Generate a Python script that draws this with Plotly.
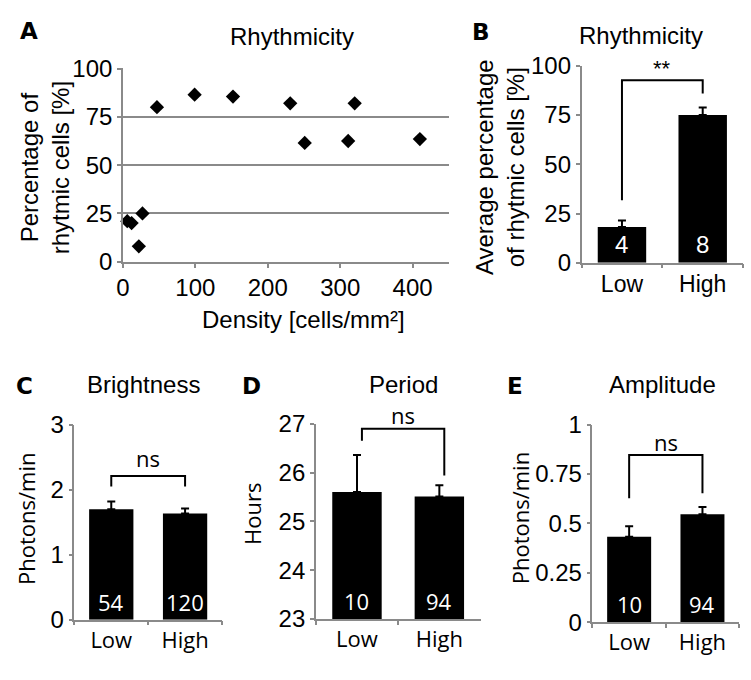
import plotly.graph_objects as go

W, H = 751, 680

# ---------------- data ----------------
# Panel A: scatter
density = [6, 12, 27, 22, 47, 99, 152, 231, 251, 320, 311, 410]
rhythmic_pct = [21, 20, 25, 8, 80, 86.5, 85.5, 82, 61.5, 82, 62.5, 63.5]

categories = ["Low", "High"]
# Panel B
rhyth_mean = [18.2, 75.0]
rhyth_err = [3.3, 3.9]
rhyth_n = ["4", "8"]
# Panel C
bright_mean = [1.70, 1.635]
bright_err = [0.12, 0.075]
bright_n = ["54", "120"]
# Panel D
period_mean = [25.6, 25.51]
period_err = [0.76, 0.23]
period_n = ["10", "94"]
# Panel E
ampl_mean = [0.433, 0.547]
ampl_err = [0.053, 0.036]
ampl_n = ["10", "94"]

# significance brackets: (left leg bottom, top, right leg bottom, label)
brk_B = (31.7, 92.7, 85.9, "**")
brk_C = (2.05, 2.21, 2.05, "ns")
brk_D = (26.65, 26.9, 25.94, "ns")
brk_E = (0.627, 0.847, 0.653, "ns")

# ---------------- helpers ----------------
def px(x):
    return x / W


def py(y):
    return 1 - y / H


GRAY = "#8a8a8a"
ARIAL = "Liberation Sans, Arial, sans-serif"
HUMAN = "Open Sans, Noto Sans, sans-serif"

fig = go.Figure()

# Panel A scatter
fig.add_trace(go.Scatter(
    x=density, y=rhythmic_pct, mode="markers",
    marker=dict(symbol="diamond", size=11, color="black"),
    xaxis="x", yaxis="y", showlegend=False, cliponaxis=False))


def add_bar(mean, err, ax):
    fig.add_trace(go.Bar(
        x=categories, y=mean, width=0.6,
        marker=dict(color="black", line=dict(width=0)),
        error_y=dict(type="data", symmetric=False, array=err,
                     arrayminus=[0] * len(err), color="black",
                     thickness=2, width=4),
        xaxis="x" + ax, yaxis="y" + ax, showlegend=False))


add_bar(rhyth_mean, rhyth_err, "2")
add_bar(bright_mean, bright_err, "3")
add_bar(period_mean, period_err, "4")
add_bar(ampl_mean, ampl_err, "5")

axis_common = dict(showline=True, linecolor=GRAY, linewidth=1.5,
                   ticks="outside", tickcolor=GRAY, ticklen=4, tickwidth=1.5,
                   zeroline=False, showgrid=False)

layout = dict(
    width=W, height=H, autosize=False,
    margin=dict(l=0, r=0, t=0, b=0),
    paper_bgcolor="white", plot_bgcolor="white",
    # Panel A
    xaxis=dict(axis_common, domain=[px(117), px(446)], range=[0, 450],
               tickvals=[0, 100, 200, 300, 400], anchor="y",
               tickfont=dict(family=ARIAL, size=24, color="black")),
    yaxis=dict(axis_common, domain=[py(258), py(56)], range=[0, 100.4],
               tickvals=[0, 25, 50, 75, 100], anchor="x", showgrid=True,
               gridcolor=GRAY, gridwidth=1.5,
               tickfont=dict(family=ARIAL, size=24, color="black")),
    # Panel B
    xaxis2=dict(axis_common, domain=[px(580), px(743)], type="category",
                range=[-0.5, 1.5], tickson="boundaries", anchor="y2",
                tickfont=dict(family=ARIAL, size=23, color="black")),
    yaxis2=dict(axis_common, domain=[py(259), py(54)], range=[0, 100],
                tickvals=[0, 25, 50, 75, 100], anchor="x2",
                tickfont=dict(family=ARIAL, size=24, color="black")),
    # Panel C
    xaxis3=dict(axis_common, domain=[px(68), px(217)], type="category",
                range=[-0.5, 1.5], tickson="boundaries", anchor="y3",
                tickfont=dict(family=HUMAN, size=22, color="black")),
    yaxis3=dict(axis_common, domain=[py(630.7), py(427.7)], range=[0, 3],
                tickvals=[0, 1, 2, 3], anchor="x3",
                tickfont=dict(family=ARIAL, size=24, color="black")),
    # Panel D
    xaxis4=dict(axis_common, domain=[px(311.7), px(478)], type="category",
                range=[-0.5, 1.5], tickson="boundaries", anchor="y4",
                tickfont=dict(family=HUMAN, size=22, color="black")),
    yaxis4=dict(axis_common, domain=[py(630), py(426.7)], range=[23, 27],
                tickvals=[23, 24, 25, 26, 27], anchor="x4",
                tickfont=dict(family=ARIAL, size=24, color="black")),
    # Panel E
    xaxis5=dict(axis_common, domain=[px(591), px(739)], type="category",
                range=[-0.5, 1.5], tickson="boundaries", anchor="y5",
                tickfont=dict(family=HUMAN, size=22, color="black")),
    yaxis5=dict(axis_common, domain=[py(633.3), py(427.7)], range=[0, 1],
                tickvals=[0, 0.25, 0.5, 0.75, 1], anchor="x5",
                tickfont=dict(family=ARIAL, size=24, color="black")),
)
fig.update_layout(**layout)

ann = []
shapes = []


def paper_text(text, x, y, size, family, angle=0, bold=False, color="black"):
    ann.append(dict(text=("<b>%s</b>" % text) if bold else text,
                    x=px(x), y=py(y), xref="paper", yref="paper",
                    showarrow=False, xanchor="center", yanchor="middle",
                    textangle=angle,
                    font=dict(family=family, size=size, color=color)))


# panel letters
for letter, lx, ly in [("A", 22, 18), ("B", 478, 19), ("C", 18, 387),
                       ("D", 247, 387), ("E", 513, 387)]:
    paper_text(letter, lx, ly, 23, "DejaVu Sans, sans-serif", bold=True)

# titles
paper_text("Rhythmicity", 288, 23, 24, ARIAL)
paper_text("Rhythmicity", 640, 22, 24, ARIAL)
paper_text("Brightness", 138, 386, 24, ARIAL)
paper_text("Period", 400, 386, 24, ARIAL)
paper_text("Amplitude", 662, 386, 24, ARIAL)

# axis titles
paper_text("Percentage of<br>rhytmic cells [%]", 38, 160, 24, ARIAL, angle=-90)
paper_text("Density [cells/mm²]", 299, 318, 24, ARIAL)
paper_text("Average percentage<br>of rhytmic cells [%]", 497, 159, 24, ARIAL, angle=-90)
paper_text("Photons/min", 19, 525, 22, HUMAN, angle=-90)
paper_text("Hours", 248, 521, 22, HUMAN, angle=-90)
paper_text("Photons/min", 518, 525, 22, HUMAN, angle=-90)


# n labels inside bars
def n_labels(labels, ax, base, family, size):
    for i, t in enumerate(labels):
        ann.append(dict(text=t, x=i, y=base, xref="x" + ax, yref="y" + ax,
                        showarrow=False, yanchor="middle", yshift=18,
                        font=dict(family=family, size=size, color="white")))


n_labels(rhyth_n, "2", 0, ARIAL, 24)
n_labels(bright_n, "3", 0, HUMAN, 22)
n_labels(period_n, "4", 23, HUMAN, 22)
n_labels(ampl_n, "5", 0, HUMAN, 22)


# brackets
def bracket(b, ax, gap, x0=0.0, x1=1.0, family=HUMAN, size=22):
    yl, yt, yr, label = b
    shapes.append(dict(type="path", xref="x" + ax, yref="y" + ax,
                       path="M %f,%f L %f,%f L %f,%f L %f,%f" % (x0, yl, x0, yt, x1, yt, x1, yr),
                       line=dict(color="black", width=2)))
    ann.append(dict(text=label, x=(x0 + x1) / 2, y=yt, xref="x" + ax, yref="y" + ax,
                    showarrow=False, yanchor="middle", yshift=gap,
                    font=dict(family=family, size=size, color="black")))


bracket(brk_B, "2", 12, family=ARIAL, size=22)
bracket(brk_C, "3", 18)
bracket(brk_D, "4", 14, 0.06, 1.06)
bracket(brk_E, "5", 13)

fig.update_layout(annotations=ann, shapes=shapes)

fig.write_html("out.html", config={"displayModeBar": False},
               post_script="document.body.style.margin='0px';")
